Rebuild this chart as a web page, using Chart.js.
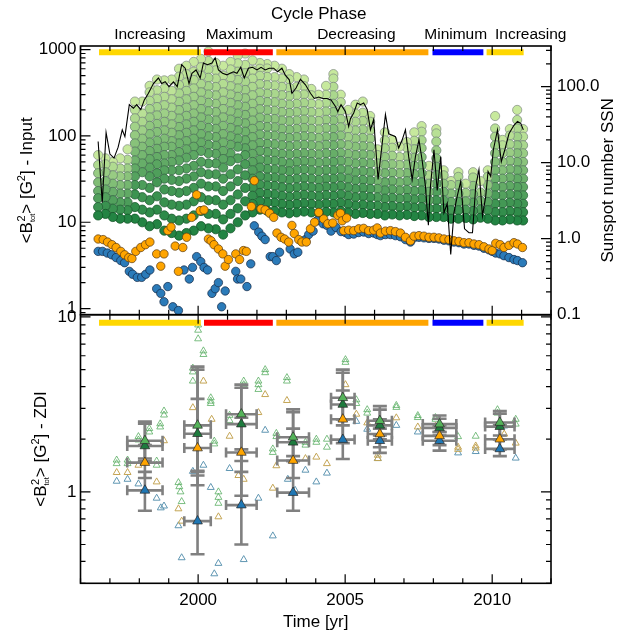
<!DOCTYPE html>
<html>
<head>
<meta charset="utf-8">
<script src="https://cdn.jsdelivr.net/npm/chart.js@4.4.1/dist/chart.umd.min.js"></script>
<style>
  html, body { margin: 0; padding: 0; background: #fff; }
  #wrap { position: relative; width: 619px; height: 633px; }
  #wrap canvas { position: absolute; left: 0; top: 0; }
</style>
</head>
<body>
<div id="wrap">
  <canvas id="cTop" width="619" height="633"></canvas>
  <canvas id="cBot" width="619" height="633"></canvas>
</div>
<script>
// =====================================================
// DATA
// =====================================================
const phaseNames  = ["Increasing", "Maximum", "Decreasing", "Minimum", "Increasing"];
const phaseStart  = [1996.63, 2000.20, 2002.66, 2007.97, 2009.81];
const phaseEnd    = [2000.09, 2002.54, 2007.83, 2009.70, 2011.07];
const phaseLabelX = [1998.36, 2001.40, 2005.38, 2008.76, 2011.31];
const phaseColors = ["#ffd700", "#ff0000", "#ffa500", "#0000ff", "#ffd700"];

// sunspot number (right axis)
const ssnT = [1996.60,1996.74,1996.87,1997.00,1997.14,1997.28,1997.42,1997.51,1997.66,1997.80,1997.91,
  1998.05,1998.17,1998.31,1998.48,1998.65,1998.76,1998.88,1999.01,1999.16,1999.29,1999.44,1999.56,1999.69,1999.79,1999.93,
  2000.07,2000.18,2000.32,2000.47,2000.58,2000.69,2000.83,2000.98,2001.09,2001.20,2001.32,2001.45,2001.57,2001.71,2001.85,
  2002.00,2002.14,2002.28,2002.42,2002.57,2002.70,2002.85,2002.96,2003.10,2003.19,2003.33,2003.48,2003.65,2003.82,2003.95,
  2004.10,2004.24,2004.38,2004.52,2004.67,2004.75,2004.86,2005.01,2005.12,2005.18,2005.29,2005.41,2005.52,2005.63,2005.75,2005.86,2005.97,
  2006.12,2006.26,2006.37,2006.48,2006.60,2006.71,2006.82,2006.94,2007.05,2007.16,2007.28,2007.39,2007.51,2007.62,2007.73,2007.83,2007.90,
  2008.02,2008.13,2008.25,2008.36,2008.47,2008.59,2008.70,2008.81,2008.93,2009.06,2009.21,2009.33,2009.44,2009.55,2009.67,2009.78,2009.86,2009.95,
  2010.04,2010.18,2010.31,2010.43,2010.57,2010.74,2010.86,2010.97,2011.06];
const ssnV = [19,3.0,25,13,11.5,16,27,22,58,52,58,
  50,67,82,110,130,110,116,100,116,100,195,175,110,150,166,
  130,205,195,205,240,166,150,143,150,157,150,180,130,175,180,
  166,180,166,175,175,157,175,143,123,82,96,125,106,82,70,
  73,70,70,67,55,47,58,47,30,38,45,61,58,61,50,27,37,
  6,18,43,24,23,22,15.6,20,27,12,6,12,20,10.6,4.9,1.5,4.9,
  14.8,4.3,12,2.2,2.9,0.62,2.2,3.6,5.7,1.35,1.2,1.2,4.9,8.1,2.0,3.6,7.7,6.6,
  14.8,27,10.3,14.8,24,31,35,33,27];

// <B2tot> input, orange and blue series
const orangeT = [1996.60,1996.77,1996.92,1997.07,1997.21,1997.37,1997.50,1997.64,1997.75,1997.88,
  1998.05,1998.21,1998.36,1998.59,1998.73,1998.84,1998.97,1999.08,1999.22,1999.33,1999.48,1999.61,1999.78,1999.95,
  2000.07,2000.20,2000.35,2000.44,2000.54,2000.69,2000.84,2000.92,2001.03,2001.28,2001.41,2001.54,2001.64,2001.81,2001.91,
  2002.14,2002.28,2002.43,2002.57,2002.68,2002.82,2002.94,2003.08,2003.19,2003.27,2003.42,2003.53,2003.68,2003.82,2003.96,
  2004.10,2004.27,2004.41,2004.58,2004.75,2004.84,2004.90,2005.05,
  2004.95,2005.12,2005.29,2005.46,2005.63,2005.80,2005.97,2006.09,2006.20,2006.37,2006.54,2006.71,2006.88,
  2007.05,2007.22,2007.34,2007.51,2007.68,2007.85,2008.02,2008.19,2008.36,2008.53,2008.70,2008.87,
  2009.04,2009.21,2009.38,2009.55,2009.72,2009.89,2010.00,2010.12,2010.27,2010.40,2010.57,2010.74,2010.86,2011.03];
const orangeV = [6.4,6.3,5.9,5.5,5.1,4.6,4.2,3.9,3.8,4.6,
  5.1,5.5,5.9,4.3,3.1,4.3,8.0,8.8,5.3,2.7,5.1,6.7,11.4,20.8,
  13.6,13.9,6.4,6.1,5.5,4.9,4.3,3.1,3.7,4.3,3.7,4.7,4.6,15.2,30.3,
  14.3,13.9,12.7,11.4,7.5,6.7,6.4,5.9,9.2,7.4,6.3,5.9,5.9,8.4,10.0,
  13.0,10.9,9.6,9.8,12.0,12.7,10.4,11.2,
  8.0,8.1,8.0,8.4,8.5,8.0,8.1,8.6,7.5,7.9,8.0,7.8,7.5,
  6.7,6.1,6.9,7.0,6.9,6.7,6.7,6.6,6.4,6.3,6.1,6.0,
  5.8,5.8,5.6,5.5,5.2,4.9,4.7,5.7,5.5,5.1,5.4,5.8,5.6,5.1];

const blueT = [1996.60,1996.75,1996.91,1997.06,1997.21,1997.37,1997.50,1997.66,1997.77,1997.93,
  1998.08,1998.22,1998.36,1998.59,1998.73,1998.84,1998.97,1999.14,1999.33,1999.52,1999.70,1999.81,1999.95,
  2000.09,2000.20,2000.32,2000.47,2000.58,2000.69,2000.80,2000.92,2001.28,2001.34,2001.45,2001.66,2001.79,2001.91,
  2002.06,2002.17,2002.28,2002.45,2002.54,2002.66,2002.77,2003.13,2003.27,2003.39,2003.53,2003.65,2003.76,2003.91,
  2004.04,2004.25,2004.38,2004.52,2004.69,2004.86,2005.01,
  2005.12,2005.29,2005.46,2005.63,2005.80,2005.97,2006.09,2006.20,2006.37,2006.54,2006.71,2006.88,
  2007.05,2007.22,2007.34,2007.51,2007.68,2007.85,2008.02,2008.19,2008.36,2008.53,2008.70,2008.87,
  2009.04,2009.21,2009.38,2009.55,2009.72,2009.89,2010.00,2010.12,2010.27,2010.40,2010.57,2010.74,2010.86,2011.03];
const blueV = [4.6,4.6,4.4,4.2,3.9,3.6,3.4,2.7,2.5,2.3,
  2.3,2.5,2.8,1.7,1.5,1.2,1.8,1.05,0.95,2.8,2.2,3.0,4.0,
  3.5,3.0,2.8,1.5,1.7,2.0,1.05,1.6,2.7,2.2,2.2,1.8,3.3,9.1,
  7.7,6.9,6.3,4.0,4.0,3.6,4.5,4.9,4.3,4.5,6.0,6.3,7.2,7.9,
  10.4,9.6,9.2,7.9,8.7,7.8,7.6,
  7.2,7.3,7.6,7.7,7.4,7.5,7.2,7.0,7.2,7.2,7.0,6.8,
  6.3,5.9,6.6,6.7,6.6,6.5,6.5,6.4,6.2,6.1,5.9,5.8,
  5.6,5.6,5.4,5.3,5.0,4.8,4.6,4.4,4.3,4.1,3.9,3.7,3.6,3.4];

// green columns: dots of each epoch, from darkest (bottom) to lightest (top)
const greenT = [1996.60,1996.85,1997.10,1997.35,1997.60,1997.85,1998.10,1998.35,1998.60,1998.85,
  1999.10,1999.35,1999.60,1999.85,2000.10,2000.35,2000.60,2000.85,2001.10,2001.35,2001.60,2001.85,
  2002.10,2002.35,2002.60,2002.85,2003.10,2003.35,2003.60,2003.85,2004.10,2004.35,2004.60,2004.85,
  2005.10,2005.35,2005.60,2005.85,2006.10,2006.35,2006.60,2006.85,2007.10,2007.35,2007.60,2007.85,
  2008.10,2008.35,2008.60,2008.85,2009.10,2009.35,2009.60,2009.85,2010.10,2010.35,2010.60,2010.85,2011.05];
const greenColumns = [
  [12,15,19,23,29,37,46,60],
  [12.5,15.5,19.5,24,30,38,47,55],
  [11.5,14.4,18,22.5,28,35,44,50],
  [11,14,17,21.5,27,34,42,55],
  [11,13.8,17,21.5,27,34,42,53,70],
  [11,15,21,27,34,42,52,66,82,102,128,160,200,250],
  [10,14,19.5,27,38,48,60,75,93,116,146,182,250],
  [9,13,18,25,34,43,54,67,84,105,131,164,205,256,320,380],
  [9.5,14,20,29,37,47,57,71,88,111,138,173,216,270,338,450],
  [8,12,17,24,32,40,48,60,75,93,116,146,182,227,284,355,440],
  [7.5,11,16,23,31,40,50,60,75,87,109,136,171,213,266,333,450],
  [7,10.5,15.5,22,30,40,52,65,82,102,127,159,199,249,311,389,486,600],
  [7.5,11,16,23,32,42,56,70,87,109,136,171,213,266,333,416,520,650],
  [8,12,17.5,25,34,45,60,75,93,116,146,182,227,284,355,444,555,720],
  [9,13.5,19.5,28,38,50,67,84,105,131,164,205,256,320,400,500,625,780],
  [8.5,12.5,18,26,36,48,63,79,99,124,155,193,242,302,377,472,590,737,950],
  [8.3,12.5,18,26,36,48,62,77,97,121,151,189,236,295,369,461,576,700],
  [7.2,10.8,16,23,32,43,54,67,84,105,131,164,205,256,320,400,500,650],
  [8.5,12.5,18,26,36,51,63,79,99,124,155,193,242,302,377,472,590,720],
  [10,14.5,21,30,41,55,75,93,116,146,182,227,284,355,444,555,694,850],
  [12,17.5,25,35,47,60,72,89,112,140,175,218,273,341,426,533,666,900],
  [13,16.3,20.3,25.4,32,40,50,62,78,97,121,151,189,236,296,370,462,577,750],
  [14,17.5,21.9,27.3,34,43,53,67,83,104,130,163,204,255,318,398,497,600,700],
  [13.6,17,21.3,26.6,33,41.5,52,65,81,101,127,158,198,247,309,387,483,604,680],
  [13.5,16.9,21.1,26.4,33,41,51.5,64,80,101,126,157,196,246,307,384,480,650],
  [13,16.3,20.3,25.4,32,40,50,62,78,97,121,151,189,236,296,370,462,600],
  [12.7,15.9,19.8,24.8,31,39,48,61,76,95,118,148,185,231,289,361,451,520],
  [13,16.3,20.3,25.4,32,40,50,62,78,97,121,151,189,236,296,370,480],
  [13.3,16.6,20.8,26,32.5,41,51,63,79,99,124,155,194,242,302,378,450],
  [13,16.3,20.3,25.4,32,40,50,62,78,97,121,151,189,236,296,350],
  [12.8,16,20,25,31,39,49,61,76,95,119,149,186,233,300],
  [13.2,16.5,20.6,25.8,32,40,50,63,79,98,123,154,192,240,300,380],
  [13,16.3,20.3,25.4,32,40,50,62,78,97,121,151,189,236,296,370,462,520],
  [13.5,16.9,21.1,26.4,33,41,51.5,64,80,101,126,157,196,246,300],
  [13,16.3,20.3,25.4,32,40,50,62,78,97,121,151,200],
  [12.5,15.6,19.5,24.4,30.5,38,48,60,75,93,116,146,182,230],
  [12.8,16,20,25,31,39,49,61,76,95,119,149,186,250],
  [12.5,15.6,19.5,24.4,30.5,38,48,60,75,93,116,146,170],
  [12.5,15.6,19.5,24.4,30.5,38,48,60,70],
  [12,15,18.8,23.4,29,37,46,57,72,89,110],
  [12.3,15.4,19.2,24,30,37.5,47,59,73,90],
  [12,15,18.8,23.4,29,37,46,57,75],
  [12.2,15.3,19.1,23.8,30,37,46.5,58,73,85],
  [11.8,14.8,18.4,23,29,36,45,56,70,88,110],
  [12,15,18.8,23.4,29,37,46,57,72,89,112,130],
  [11.5,14.4,18,22.5,28,35,45],
  [11.5,14.4,18,22.5,28,35,44,55,68,86,107,120],
  [11.5,14.4,18,22.5,28,35,40],
  [11,13.8,17.2,21.5,27,30],
  [11,13.8,17.2,21.5,27,33.6,38],
  [11.2,14,17.5,21.9,28],
  [10.8,13.5,16.9,21.1,26.4,33,38],
  [11.3,14.1,17.7,22.1,30],
  [11,13.8,17.2,21.5,27,33.6,40],
  [10.5,13.1,16.4,20.5,25.6,32,40,50,63,78,98,122,170],
  [10.5,13.1,16.4,20.5,25.6,32,40,50,63,78,90],
  [10.8,13.5,16.9,21.1,26.4,33,41,51.5,64,80,101,120],
  [10.5,13.1,16.4,20.5,25.6,32,40,50,63,78,98,122,153,200],
  [10.5,13.1,16.4,20.5,25.6,32,40,50,63,78,98,120]];

// ZDI panel: epoch means with error bars
const epochT  = [1998.19, 1999.98, 2001.47, 2003.23, 2004.92, 2006.18, 2008.21, 2010.26];
const epochDT = [0.60, 0.45, 0.52, 0.54, 0.40, 0.41, 0.57, 0.50];
const zdiGreenV  = [1.96, 2.40, 2.78, 2.05, 3.45, 2.55, 2.44, 2.49];
const zdiGreenLo = [1.55, 1.30, 1.50, 1.60, 2.60, 2.10, 2.20, 2.10];
const zdiGreenHi = [2.52, 5.20, 4.10, 2.96, 5.00, 3.09, 2.73, 2.90];
const zdiDarkV   = [1.83, 2.15, 2.44, 1.92, 3.16, 2.40, 2.32, 2.36];
const zdiDarkLo  = [1.50, 1.24, 1.30, 1.50, 2.40, 2.00, 2.10, 2.00];
const zdiDarkHi  = [2.45, 5.00, 3.94, 2.85, 4.80, 2.95, 2.62, 2.80];
const zdiOrangeV  = [1.47, 1.78, 1.68, 1.51, 2.60, 2.14, 2.09, 2.00];
const zdiOrangeLo = [1.20, 1.09, 0.95, 1.20, 1.90, 1.80, 1.85, 1.75];
const zdiOrangeHi = [1.85, 3.40, 2.65, 2.30, 3.80, 2.60, 2.40, 2.40];
const zdiBlueV  = [1.02, 0.68, 0.84, 0.99, 1.99, 1.96, 1.96, 1.76];
const zdiBlueLo = [0.78, 0.44, 0.50, 0.78, 1.54, 1.67, 1.72, 1.60];
const zdiBlueHi = [1.30, 1.32, 1.75, 1.50, 2.60, 2.30, 2.20, 2.00];

// ZDI panel: single maps (open triangles)
const openGreenT = [1997.23,1997.23,1997.60,1997.60,1997.97,1997.97,1998.34,1998.34,1998.59,1998.59,1998.71,1998.71,1998.84,1998.84,
  2000.00,2000.00,2000.00,2000.18,2000.18,1999.82,1999.82,1999.82,2000.43,2000.43,2000.43,2000.55,2000.55,1999.33,1999.36,1999.40,1999.44,2000.69,2000.69,2000.69,
  2001.55,2001.55,2002.05,2002.05,2002.05,2002.28,2002.28,2001.07,2001.07,
  2002.54,2002.54,2002.66,2002.66,2003.02,2003.02,2003.65,2003.65,2004.02,2004.02,2004.38,2004.38,
  2005.01,2005.01,2005.38,2005.38,2005.75,2005.75,2006.74,2006.74,
  2007.47,2007.47,2008.07,2008.07,2008.84,2009.44,2010.18,2010.18,2010.80,2010.80];
const openGreenV = [1.45,1.52,1.45,1.52,2.07,1.98,2.30,2.20,1.50,1.42,2.35,2.45,2.90,2.75,
  9.0,8.4,7.5,6.4,6.1,5.1,4.85,4.3,3.45,3.3,3.2,1.95,1.88,1.13,1.07,1.0,0.88,1.0,0.93,0.86,
  4.3,4.1,4.3,4.1,3.85,5.0,4.8,2.74,2.56,
  1.76,1.68,2.16,2.07,4.5,4.3,1.92,1.85,2.0,1.92,2.0,1.8,
  5.7,5.5,3.36,3.2,2.95,2.82,3.12,3.04,
  2.73,2.66,2.66,2.6,2.07,2.08,2.95,2.82,2.6,2.44];
const openTanT = [1997.23,1997.60,1997.97,1998.59,1998.84,
  2000.18,1999.82,2000.46,1999.33,1999.44,2000.69,
  2002.05,2002.28,2001.07,2001.37,2001.55,
  2003.02,2002.66,2002.54,2003.65,2004.02,2004.38,
  2005.01,2005.38,2005.75,2006.74,2006.11,2006.11,
  2007.47,2008.07,2008.84,2008.84,2009.44,2009.44,2010.41,2010.80];
const openTanV = [1.29,1.29,1.42,1.14,1.96,
  4.3,3.03,2.6,0.80,0.68,0.72,
  2.84,3.6,2.08,1.24,1.18,
  3.33,1.41,1.05,1.55,1.58,1.45,
  4.1,2.78,2.48,2.65,1.62,1.55,
  2.35,2.37,1.8,1.75,1.83,1.78,2.14,1.9];
const openBlueT = [1997.23,1997.60,1997.97,1998.59,1998.73,1998.84,
  2000.18,1999.82,2000.43,1999.33,1999.44,2000.69,2000.55,
  2001.07,2002.05,2001.55,2002.54,2002.28,
  2003.05,2003.65,2004.02,2004.38,2003.30,
  2005.38,2005.75,2006.74,2006.11,
  2007.47,2008.84,2009.44,2010.41,2010.80];
const openBlueV = [1.15,1.18,1.11,0.92,0.81,0.83,
  1.42,1.31,1.06,0.64,0.42,0.39,0.34,
  1.36,0.92,0.41,0.56,2.25,
  1.18,1.33,1.14,1.28,1.02,
  2.53,2.28,2.4,1.55,
  2.2,1.67,1.7,2.38,1.56];

// axes
const xTickLabels = [2000, 2005, 2010];
const yTopTicks = [1, 10, 100, 1000],   yTopText = ["1", "10", "100", "1000"];
const ySsnTicks = [0.1, 1, 10, 100],    ySsnText = ["0.1", "1.0", "10.0", "100.0"];
const yBotTicks = [1, 10],              yBotText = ["1", "10"];

// =====================================================
// LAYOUT / STYLE
// =====================================================
const W = 619, H = 633;
const PLOT_L = 80.5, PLOT_R = 551, TOP_T = 46, MID = 314.7, BOT_B = 583.3;
const FONT = '"Liberation Sans", Arial, Helvetica, sans-serif';
Chart.defaults.font.family = FONT;
Chart.defaults.color = "#000";

const pts = (xs, ys) => xs.map((x, i) => ({ x, y: ys[i] }));
const mix = (a, b, f) => `rgb(${a.map((v, i) => Math.round(v + (b[i] - v) * f)).join(",")})`;

function tickText(v, vals, texts) {
    for (let i = 0; i < vals.length; i++)
        if (Math.abs(v - vals[i]) < vals[i] * 1e-6) return texts[i];
    return "";
}

function logTicks(min, max) {
    const out = [];
    for (let e = Math.floor(Math.log10(min)); e <= Math.ceil(Math.log10(max)); e++)
        for (let m = 1; m < 10; m++) {
            const v = m * Math.pow(10, e);
            if (v >= min * 0.9999 && v <= max * 1.0001) out.push({ v, major: m === 1 });
        }
    return out;
}

// frame + inward tick marks
const framePlugin = {
    id: "frame",
    afterDatasetsDraw(chart, args, opts) {
        const { ctx, chartArea: a, scales } = chart;
        ctx.save();
        ctx.strokeStyle = "#000";
        ctx.lineWidth = 1.2;
        ctx.beginPath();
        for (let yr = 1996; yr <= 2012; yr++) {
            const px = scales.x.getPixelForValue(yr);
            const len = yr % 5 === 0 ? 9 : 5;
            ctx.moveTo(px, a.bottom); ctx.lineTo(px, a.bottom - len);
            ctx.moveTo(px, a.top); ctx.lineTo(px, a.top + len);
        }
        const yl = scales[opts.left], yr = scales[opts.right];
        logTicks(yl.min, yl.max).forEach(t => {
            const py = yl.getPixelForValue(t.v);
            ctx.moveTo(a.left, py); ctx.lineTo(a.left + (t.major ? 10 : 5), py);
        });
        logTicks(yr.min, yr.max).forEach(t => {
            const py = yr.getPixelForValue(t.v);
            ctx.moveTo(a.right, py); ctx.lineTo(a.right - (t.major ? 10 : 5), py);
        });
        ctx.stroke();
        ctx.lineWidth = 1.6;
        ctx.strokeRect(a.left, a.top, a.right - a.left, a.bottom - a.top);
        ctx.restore();
    }
};

// <B2tot> [G2] - xxx, rotated, reading upward
function drawBTitle(ctx, x, y, tail) {
    const big = "17px " + FONT, sup = "11px " + FONT, sub = "7.5px " + FONT;
    const m = (t, f) => { ctx.font = f; return ctx.measureText(t).width; };
    const w1 = m("<B", big), w2 = Math.max(m("2", sup), m("tot", sub));
    const w3 = m("> [G", big), w4 = m("2", sup), w5 = m("] - " + tail, big);
    const total = w1 + w2 + w3 + w4 + w5;
    ctx.save();
    ctx.translate(x, y);
    ctx.rotate(-Math.PI / 2);
    ctx.fillStyle = "#000";
    ctx.textBaseline = "alphabetic";
    ctx.textAlign = "left";
    let cx = -total / 2;
    ctx.font = big; ctx.fillText("<B", cx, 0); cx += w1;
    ctx.font = sup; ctx.fillText("2", cx + 0.5, -7);
    ctx.font = sub; ctx.fillText("tot", cx, 3); cx += w2;
    ctx.font = big; ctx.fillText("> [G", cx, 0); cx += w3;
    ctx.font = sup; ctx.fillText("2", cx, -7); cx += w4;
    ctx.font = big; ctx.fillText("] - " + tail, cx, 0);
    ctx.restore();
}

const topTextPlugin = {
    id: "topText",
    afterDraw(chart) {
        const { ctx, scales: { x }, chartArea: a } = chart;
        ctx.save();
        ctx.fillStyle = "#000";
        ctx.textAlign = "center";
        ctx.textBaseline = "middle";
        ctx.font = "17px " + FONT;
        ctx.fillText("Cycle Phase", (a.left + a.right) / 2 + 3, 14);
        ctx.font = "15.5px " + FONT;
        phaseNames.forEach((n, i) => ctx.fillText(n, x.getPixelForValue(phaseLabelX[i]), 35));
        // right axis title
        ctx.translate(613, (a.top + a.bottom) / 2);
        ctx.rotate(-Math.PI / 2);
        ctx.textBaseline = "alphabetic";
        ctx.font = "17px " + FONT;
        ctx.fillText("Sunspot number SSN", 0, 0);
        ctx.restore();
        drawBTitle(ctx, 32, (a.top + a.bottom) / 2, "Input");
    }
};

const botTextPlugin = {
    id: "botText",
    afterDraw(chart) {
        const a = chart.chartArea;
        drawBTitle(chart.ctx, 46, (a.top + a.bottom) / 2, "ZDI");
    }
};

// =====================================================
// TOP PANEL
// =====================================================
function phaseBars(yVal, yAxisID) {
    return phaseStart.map((s, i) => ({
        data: [{ x: s, y: yVal }, { x: phaseEnd[i], y: yVal }],
        yAxisID, showLine: true, borderColor: phaseColors[i], borderWidth: 6,
        borderCapStyle: "butt", pointRadius: 0, order: 0
    }));
}

const topSets = [];
topSets.push({
    data: pts(ssnT, ssnV), yAxisID: "ySSN", showLine: true,
    borderColor: "#000", borderWidth: 1.1, pointRadius: 0, tension: 0, order: 0
});
topSets.push(...phaseBars(930, "y"));
topSets.push({
    data: pts(orangeT, orangeV), yAxisID: "y", pointRadius: 4.2,
    backgroundColor: "#ffa500", borderColor: "rgba(90,60,20,0.9)", borderWidth: 0.8, order: 1
});
topSets.push({
    data: pts(blueT, blueV), yAxisID: "y", pointRadius: 4.2,
    backgroundColor: "#2b7bb9", borderColor: "rgba(20,40,70,0.9)", borderWidth: 0.8, order: 2
});
// one dataset per epoch column; light dots first so the darker ones sit on top
greenColumns.forEach((col, i) => {
    const n = col.length;
    const order = col.map((v, j) => j).reverse();
    topSets.push({
        data: order.map(j => ({ x: greenT[i], y: col[j] })),
        yAxisID: "y", pointRadius: 4.6, borderWidth: 0.8,
        backgroundColor: order.map(j => mix([35, 132, 67], [199, 233, 157], j / (n - 1))),
        borderColor: order.map(j => mix([20, 85, 40], [140, 150, 140], j / (n - 1))),
        order: 3
    });
});

new Chart(document.getElementById("cTop"), {
    type: "scatter",
    data: { datasets: topSets },
    options: {
        responsive: false, animation: false, events: [],
        layout: { padding: { top: TOP_T, bottom: H - MID, left: 0, right: 0 } },
        plugins: { legend: { display: false }, tooltip: { enabled: false }, frame: { left: "y", right: "ySSN" } },
        scales: {
            x: { type: "linear", min: 1996, max: 2012, display: false },
            y: {
                type: "logarithmic", position: "left", min: 0.85, max: 1100,
                grid: { display: false, drawTicks: false }, border: { display: false },
                ticks: { autoSkip: false, padding: 4, font: { size: 17 }, callback: v => tickText(v, yTopTicks, yTopText) },
                afterFit: s => { s.width = PLOT_L; }
            },
            ySSN: {
                type: "logarithmic", position: "right", min: 0.1, max: 343,
                grid: { display: false, drawTicks: false }, border: { display: false },
                ticks: { autoSkip: false, padding: 6, font: { size: 17 }, callback: v => tickText(v, ySsnTicks, ySsnText) },
                afterFit: s => { s.width = W - PLOT_R; }
            }
        }
    },
    plugins: [framePlugin, topTextPlugin]
});

// =====================================================
// BOTTOM PANEL
// =====================================================
const zdiSeries = [
    { v: zdiGreenV,  lo: zdiGreenLo,  hi: zdiGreenHi,  fill: "#55b35a", order: 1 },
    { v: zdiDarkV,   lo: zdiDarkLo,   hi: zdiDarkHi,   fill: "#1e7b3e", order: 2 },
    { v: zdiOrangeV, lo: zdiOrangeLo, hi: zdiOrangeHi, fill: "#ffa500", order: 3 },
    { v: zdiBlueV,   lo: zdiBlueLo,   hi: zdiBlueHi,   fill: "#1f77b4", order: 4 }
];

const botSets = [];
botSets.push(...phaseBars(9.25, "y"));
zdiSeries.forEach(s => botSets.push({
    data: pts(epochT, s.v), pointStyle: "triangle", pointRadius: 5.6,
    backgroundColor: s.fill, borderColor: "rgba(40,40,40,0.9)", borderWidth: 0.8, order: s.order
}));
const OPEN_TOP_INDEX = botSets.length;
botSets.push({ data: pts(openGreenT, openGreenV), pointStyle: "triangle", pointRadius: 4,
    backgroundColor: "rgba(0,0,0,0)", borderColor: "rgba(80,170,90,0.75)", borderWidth: 1, order: 7 });
botSets.push({ data: pts(openTanT, openTanV), pointStyle: "triangle", pointRadius: 4,
    backgroundColor: "rgba(0,0,0,0)", borderColor: "rgb(196,165,85)", borderWidth: 1, order: 8 });
botSets.push({ data: pts(openBlueT, openBlueV), pointStyle: "triangle", pointRadius: 4,
    backgroundColor: "rgba(0,0,0,0)", borderColor: "rgb(95,150,178)", borderWidth: 1, order: 9 });

// grey error crosses, drawn above the open triangles, below the means
const errorBarPlugin = {
    id: "errbars",
    afterDatasetDraw(chart, args) {
        if (args.index !== OPEN_TOP_INDEX) return;
        const { ctx, scales: { x, y } } = chart;
        ctx.save();
        ctx.strokeStyle = "rgb(128,128,128)";
        ctx.lineWidth = 2.6;
        zdiSeries.forEach(s => s.v.forEach((v, i) => {
            const px = x.getPixelForValue(epochT[i]), py = y.getPixelForValue(v);
            const x0 = x.getPixelForValue(epochT[i] - epochDT[i]);
            const x1 = x.getPixelForValue(epochT[i] + epochDT[i]);
            const yLo = y.getPixelForValue(s.lo[i]), yHi = y.getPixelForValue(s.hi[i]);
            ctx.beginPath();
            ctx.moveTo(px, yLo); ctx.lineTo(px, yHi);
            ctx.moveTo(px - 7, yLo); ctx.lineTo(px + 7, yLo);
            ctx.moveTo(px - 7, yHi); ctx.lineTo(px + 7, yHi);
            ctx.moveTo(x0, py); ctx.lineTo(x1, py);
            ctx.moveTo(x0, py - 5); ctx.lineTo(x0, py + 5);
            ctx.moveTo(x1, py - 5); ctx.lineTo(x1, py + 5);
            ctx.stroke();
        }));
        ctx.restore();
    }
};

new Chart(document.getElementById("cBot"), {
    type: "scatter",
    data: { datasets: botSets },
    options: {
        responsive: false, animation: false, events: [],
        layout: { padding: { top: MID, bottom: 0, left: 0, right: W - PLOT_R } },
        plugins: { legend: { display: false }, tooltip: { enabled: false }, frame: { left: "y", right: "y" } },
        scales: {
            x: {
                type: "linear", position: "bottom", min: 1996, max: 2012,
                grid: { display: false, drawTicks: false }, border: { display: false },
                ticks: { stepSize: 1, autoSkip: false, maxRotation: 0, padding: 7, font: { size: 17 },
                         callback: v => xTickLabels.includes(Math.round(v)) && Math.abs(v - Math.round(v)) < 1e-6 ? String(Math.round(v)) : "" },
                title: { display: true, text: "Time [yr]", font: { size: 17 }, padding: { top: 0, bottom: 0 } },
                afterFit: s => { s.height = H - BOT_B; }
            },
            y: {
                type: "logarithmic", position: "left", min: 0.31, max: 10.3,
                grid: { display: false, drawTicks: false }, border: { display: false },
                ticks: { autoSkip: false, padding: 4, font: { size: 17 }, callback: v => tickText(v, yBotTicks, yBotText) },
                afterFit: s => { s.width = PLOT_L; }
            }
        }
    },
    plugins: [framePlugin, errorBarPlugin, botTextPlugin]
});
</script>
</body>
</html>
